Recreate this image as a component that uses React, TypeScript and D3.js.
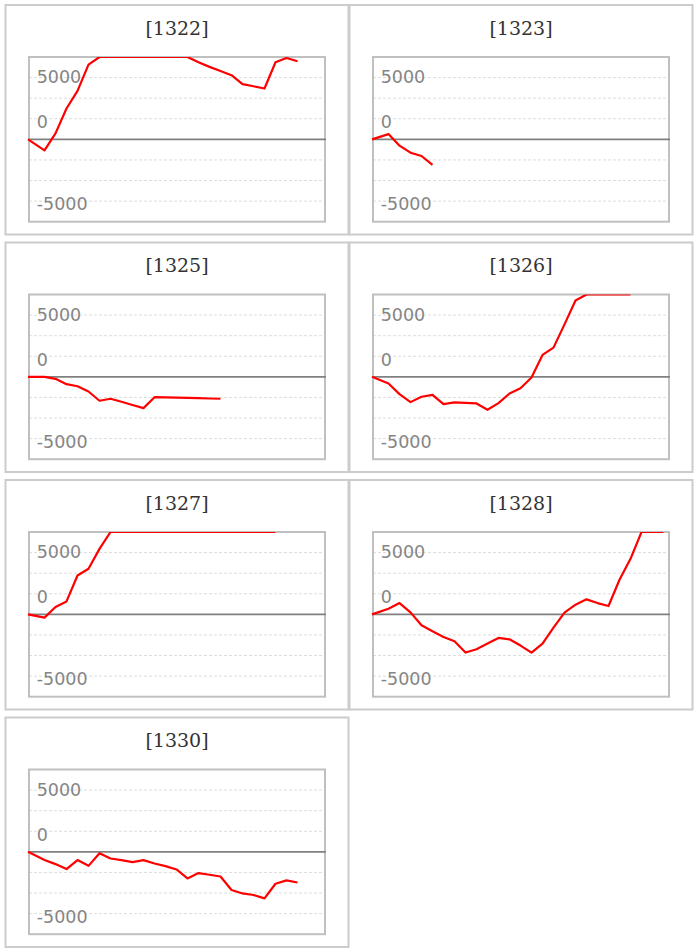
import React from "react";
import * as d3 from "d3";

// ---- data ----
const codes = ["1322", "1323", "1325", "1326", "1327", "1328", "1330"];
const slots = [0, 1.5, 2.5, 3.5, 4.5, 5.5, 6.5, 7.5, 8.5, 9.5, 10.5, 11.5, 12.5, 13.5, 14.5, 15.5, 16.5, 17.5, 18.5, 19.5, 20.5, 21.5, 22.5, 23.5, 24.5, 25.5, 26.5];
const s1322 = [0, -1330, 730, 3750, 5880, 9080, 10300, 11200, 11800, 12400, 12900, 12600, 12100, 11300, 10100, 9370, 8800, 8300, 7790, 6700, 6450, 6170, 9360, 9880, 9480];
const s1323 = [0, 640, -770, -1620, -2020, -3110];
const s1325 = [0, 0, -240, -890, -1140, -1780, -2900, -2660, -3030, -3420, -3800, -2470, -2500, -2530, -2560, -2590, -2630, -2660];
const s1326 = [0, -810, -2100, -3070, -2420, -2180, -3310, -3110, -3170, -3230, -4000, -3190, -2020, -1380, -85, 2660, 3550, 6370, 9270, 10400, 11000, 11300, 11200, 10800];
const s1327 = [0, -400, 890, 1570, 4720, 5530, 7950, 10200, 10800, 11500, 12000, 12400, 12100, 11800, 12300, 12800, 13100, 12700, 12200, 11900, 11500, 11100, 10600];
const s1328 = [0, 690, 1370, 240, -1330, -2060, -2740, -3270, -4640, -4240, -3550, -2860, -3030, -3790, -4640, -3550, -1610, 200, 1170, 1820, 1370, 1010, 4200, 6740, 10200, 10900, 11300];
const s1330 = [0, -1000, -1490, -2090, -1000, -1700, -160, -810, -1000, -1250, -1000, -1420, -1730, -2140, -3230, -2580, -2780, -2990, -4640, -5050, -5240, -5650, -3870, -3470, -3720];
const seriesList = [s1322, s1323, s1325, s1326, s1327, s1328, s1330];

const yDomain = [-10000, 10000];
const xDomain = [0, 27];
const gridValues = [-7500, -5000, -2500, 2500, 5000, 7500];
const tickLabels = [5000, 0, -5000];

// ---- layout / style ----
const W = 700;
const H = 952;
const PANEL_W = 345;
const PANEL_H = 231.5;
const COL_X = [4.5, 348.5];
const ROW_Y0 = 4;
const ROW_PITCH = 237.5;
const BOX_DX = 24.5;
const BOX_DY = 53;
const BOX_W = 296;
const BOX_H = 164.7;
const LINE_DX = 23.5;
const LINE_W = 297;
const LABEL_DX = 7.7;
const labelOffsets = [-14.9, -11, 29.5];

function Panel({ code, values, x0, y0, idx }: { code: string; values: number[]; x0: number; y0: number; idx: number }) {
  const bx = x0 + BOX_DX;
  const by = y0 + BOX_DY;
  const x = d3.scaleLinear().domain(xDomain).range([x0 + LINE_DX, x0 + LINE_DX + LINE_W]);
  const y = d3.scaleLinear().domain(yDomain).range([by + BOX_H, by]).clamp(true);
  const line = d3
    .line<number>()
    .x((_, i) => x(slots[i]))
    .y((d) => y(d));
  const clipId = `clip-${idx}`;
  return (
    <g>
      <rect x={x0 + 1} y={y0 + 1} width={PANEL_W - 2} height={PANEL_H - 2} fill="#fff" stroke="#cccccc" strokeWidth={2} />
      <text
        x={x0 + PANEL_W / 2}
        y={y0 + 30.5}
        textAnchor="middle"
        fontFamily="'DejaVu Serif', serif"
        fontSize={19}
        fill="#333"
      >
        [{code}]
      </text>
      <defs>
        <clipPath id={clipId}>
          <rect x={x0 + LINE_DX - 1.5} y={by} width={BOX_W + 4} height={BOX_H + 2} />
        </clipPath>
      </defs>
      {gridValues.map((v) => (
        <line
          key={v}
          x1={bx}
          x2={bx + BOX_W}
          y1={y(v)}
          y2={y(v)}
          stroke="#dddddd"
          strokeWidth={1}
          strokeDasharray="3,2"
        />
      ))}
      {tickLabels.map((v, i) => (
        <text
          key={v}
          x={bx + LABEL_DX}
          y={y(v) + labelOffsets[i]}
          fontFamily="'DejaVu Sans', sans-serif"
          fontSize={17.5}
          fill="#858585"
        >
          {v}
        </text>
      ))}
      <rect x={bx} y={by} width={BOX_W} height={BOX_H} fill="none" stroke="#c0c0c0" strokeWidth={2} />
      <line x1={x0 + LINE_DX} x2={bx + BOX_W + 1} y1={y(0)} y2={y(0)} stroke="#808080" strokeWidth={1.8} />
      <path
        d={line(values) || ""}
        fill="none"
        stroke="#ff0000"
        strokeWidth={2.2}
        clipPath={`url(#${clipId})`}
        strokeLinejoin="round"
      />
    </g>
  );
}

export default function App() {
  return (
    <svg width={W} height={H} style={{ position: "absolute", left: 0, top: 0, background: "#fff" }}>
      {codes.map((c, i) => (
        <Panel
          key={c}
          code={c}
          values={seriesList[i]}
          idx={i}
          x0={COL_X[i % 2]}
          y0={ROW_Y0 + Math.floor(i / 2) * ROW_PITCH}
        />
      ))}
    </svg>
  );
}
